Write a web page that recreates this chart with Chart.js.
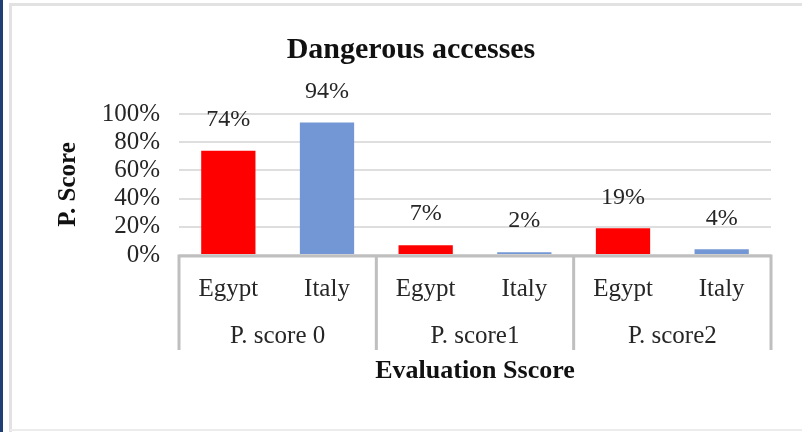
<!DOCTYPE html>
<html>
<head>
<meta charset="utf-8">
<title>Dangerous accesses</title>
<script src="https://cdn.jsdelivr.net/npm/chart.js@4.4.1/dist/chart.umd.min.js"></script>
<style>
  html, body { margin: 0; padding: 0; background: #ffffff; }
  #wrap { width: 802px; height: 432px; position: relative; }
</style>
</head>
<body>
<div id="wrap"><canvas id="chart" width="802" height="432"></canvas></div>
<script>
// Evaluation groups (outer axis level) and countries (inner axis level)
const groups = ['P. score 0', 'P. score1', 'P. score2'];
const countries = ['Egypt', 'Italy'];

// Percentage of dangerous accesses per group
const egyptValues = [74, 7, 19];
const italyValues = [94, 2, 4];

// Y axis tick values
const yTicks = [0, 20, 40, 60, 80, 100];

const countryColors = { Egypt: '#ff0000', Italy: '#7396d4' };
const serif = "'Liberation Serif', 'Times New Roman', serif";
const textColor = '#262626';
const frameGray = '#bfbfbf';

// Flatten to one bar per (group, country) slot
const slotLabels = [];
const slotValues = [];
const slotColors = [];
groups.forEach((g, i) => {
  countries.forEach(c => {
    slotLabels.push(c);
    slotValues.push(c === 'Egypt' ? egyptValues[i] : italyValues[i]);
    slotColors.push(countryColors[c]);
  });
});

// Page frame: navy strip on the left and a light grey border
const framePlugin = {
  id: 'frame',
  beforeDraw(chart) {
    const ctx = chart.ctx;
    ctx.save();
    ctx.fillStyle = '#ffffff';
    ctx.fillRect(0, 0, chart.width, chart.height);
    ctx.fillStyle = '#1f3f74';
    ctx.fillRect(0, 0, 3, chart.height);
    ctx.strokeStyle = '#e2e2e2';
    ctx.lineWidth = 3;
    ctx.beginPath();
    ctx.moveTo(10.5, chart.height);
    ctx.lineTo(10.5, 4.5);
    ctx.lineTo(chart.width, 4.5);
    ctx.stroke();
    ctx.strokeStyle = '#ececec';
    ctx.lineWidth = 2;
    ctx.beginPath();
    ctx.moveTo(10, chart.height - 2);
    ctx.lineTo(chart.width, chart.height - 2);
    ctx.stroke();
    ctx.restore();
  }
};

// Multi-level category frame: baseline and group separators
const groupFramePlugin = {
  id: 'groupFrame',
  afterDraw(chart) {
    const { ctx, chartArea } = chart;
    const x2 = chart.scales.x2;
    const left = chartArea.left, right = chartArea.right;
    const step = (right - left) / groups.length;
    const base = chartArea.bottom + 1;
    const lineBottom = x2.top + 38;
    ctx.save();
    ctx.strokeStyle = frameGray;
    ctx.lineWidth = 3;
    ctx.lineCap = 'butt';
    ctx.beginPath();
    ctx.moveTo(left - 1.5, base);
    ctx.lineTo(right + 1.5, base);
    for (let i = 0; i <= groups.length; i++) {
      const x = left + i * step;
      ctx.moveTo(x, base);
      ctx.lineTo(x, lineBottom);
    }
    ctx.stroke();
    ctx.restore();
  }
};

// Percentage labels above each bar
const valueLabelPlugin = {
  id: 'valueLabels',
  afterDatasetsDraw(chart) {
    const { ctx } = chart;
    const meta = chart.getDatasetMeta(0);
    ctx.save();
    ctx.font = "24px " + serif;
    ctx.fillStyle = textColor;
    ctx.textAlign = 'center';
    ctx.textBaseline = 'middle';
    meta.data.forEach((bar, i) => {
      ctx.fillText(slotValues[i] + '%', bar.x, bar.y - 31);
    });
    ctx.restore();
  }
};

new Chart(document.getElementById('chart'), {
  type: 'bar',
  data: {
    labels: slotLabels,
    datasets: [{
      data: slotValues,
      backgroundColor: slotColors,
      borderWidth: 0,
      categoryPercentage: 1,
      barPercentage: 0.55
    }]
  },
  options: {
    responsive: false,
    animation: false,
    devicePixelRatio: 1,
    layout: { padding: { top: 32, left: 51, right: 31, bottom: 40 } },
    plugins: {
      legend: { display: false },
      tooltip: { enabled: false },
      title: {
        display: true,
        text: 'Dangerous accesses',
        color: '#111111',
        font: { family: serif, size: 30, weight: 'bold' },
        padding: { top: 0, bottom: 46 }
      }
    },
    scales: {
      x: {
        type: 'category',
        position: 'bottom',
        grid: { display: false },
        border: { display: false },
        ticks: {
          color: textColor,
          font: { family: serif, size: 25 },
          padding: 11,
          maxRotation: 0,
          autoSkip: false
        },
        afterFit(scale) { scale.height = 57; }
      },
      x2: {
        type: 'category',
        position: 'bottom',
        labels: groups,
        offset: true,
        grid: { display: false },
        border: { display: false },
        ticks: {
          color: textColor,
          font: { family: serif, size: 25 },
          padding: 1,
          maxRotation: 0,
          autoSkip: false
        },
        title: {
          display: true,
          text: 'Evaluation Sscore',
          color: '#111111',
          font: { family: serif, size: 26, weight: 'bold' },
          padding: { top: 0, bottom: 5 }
        },
        afterFit(scale) { scale.height = 80; }
      },
      y: {
        min: 0,
        max: 100,
        afterBuildTicks(scale) { scale.ticks = yTicks.map(v => ({ value: v })); },
        grid: { color: '#dedede', lineWidth: 2, drawTicks: false },
        border: { display: false },
        ticks: {
          color: textColor,
          font: { family: serif, size: 25 },
          padding: 19,
          autoSkip: false,
          callback: v => v + '%'
        },
        title: {
          display: true,
          text: 'P. Score',
          color: '#111111',
          font: { family: serif, size: 25, weight: 'bold' },
          padding: { top: 3, bottom: 0 }
        },
        afterFit(scale) { scale.width = 128; }
      }
    }
  },
  plugins: [framePlugin, groupFramePlugin, valueLabelPlugin]
});
</script>
</body>
</html>
